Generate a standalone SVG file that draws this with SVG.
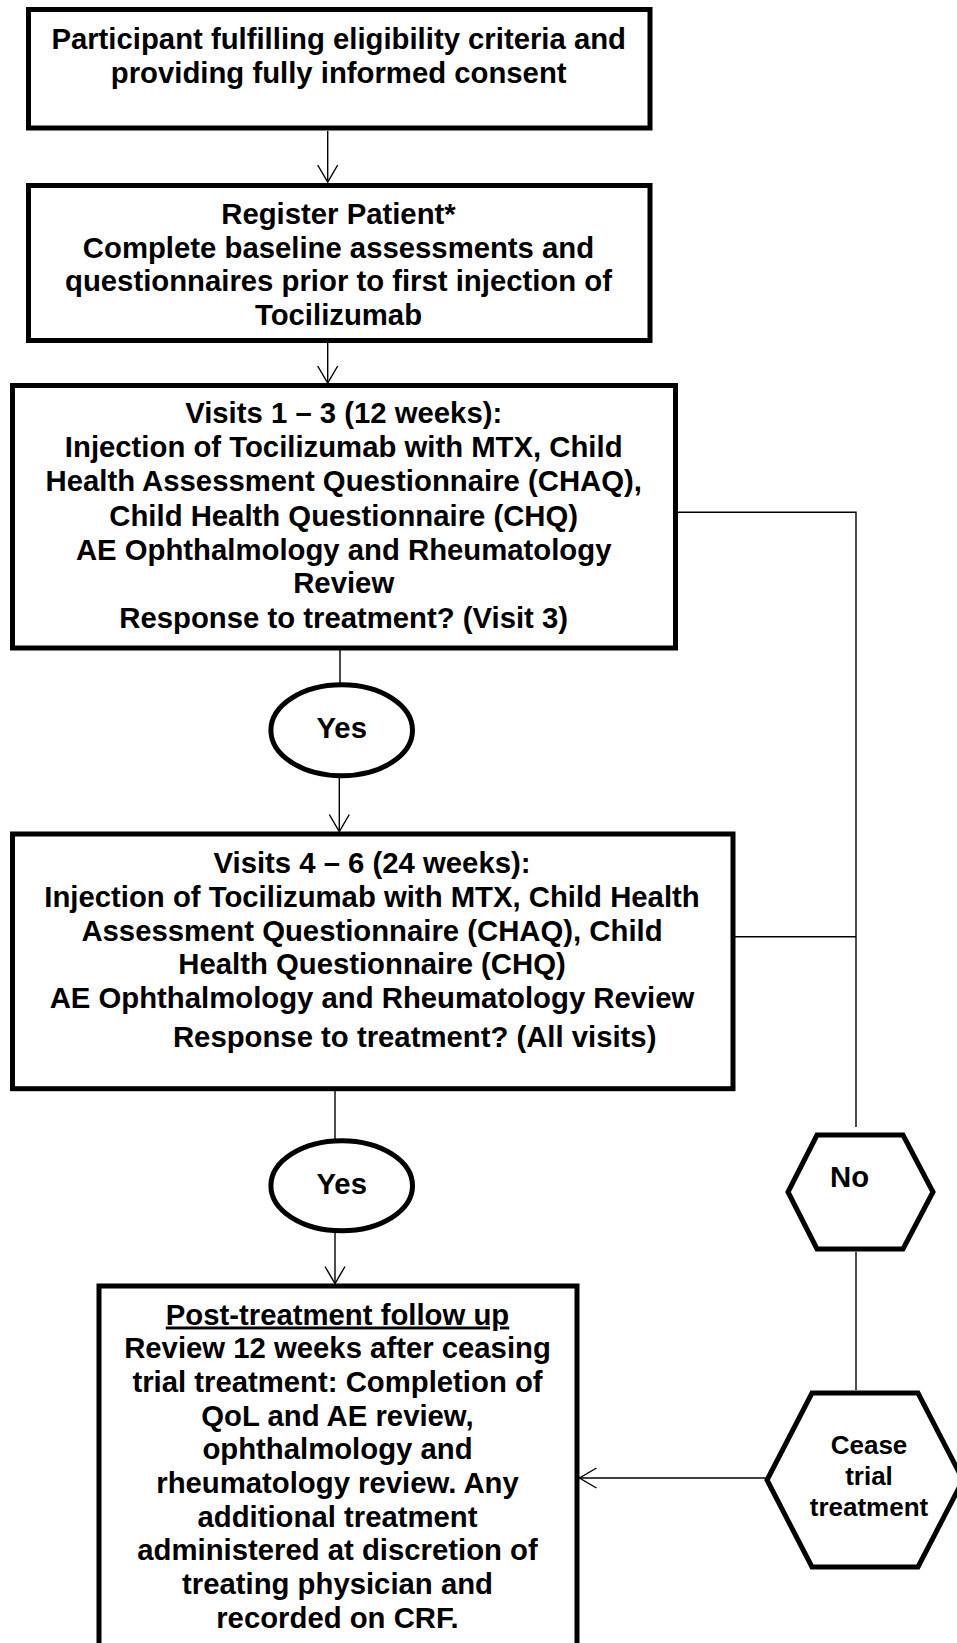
<svg xmlns="http://www.w3.org/2000/svg" width="957" height="1643" viewBox="0 0 957 1643">
  <style>
    .box { fill: #fff; stroke: #000; stroke-width: 5; stroke-linejoin: miter; }
    .conn { fill: none; stroke: #000; stroke-width: 1.4; }
    .t { font-family: "Liberation Sans", Arial, sans-serif; font-weight: bold; font-size: 29.3px; fill: #000; text-anchor: middle; }
    .ts { font-family: "Liberation Sans", Arial, sans-serif; font-weight: bold; font-size: 26px; fill: #000; text-anchor: middle; }
  </style>
  <defs>
    <marker id="arrow" viewBox="-19 -12 21 24" refX="0" refY="0" markerWidth="21" markerHeight="24" markerUnits="userSpaceOnUse" orient="auto">
      <path d="M -17,-10 L 0,0 L -17,10" fill="none" stroke="#000" stroke-width="1.4"/>
    </marker>
  </defs>
  <rect width="957" height="1643" fill="#fff"/>

  <g id="connectors">
    <line class="conn" x1="327.7" y1="131" x2="327.7" y2="182" marker-end="url(#arrow)"/>
    <line class="conn" x1="327.7" y1="343" x2="327.7" y2="383" marker-end="url(#arrow)"/>
    <line class="conn" x1="340" y1="650" x2="340" y2="685"/>
    <line class="conn" x1="339.3" y1="776" x2="339.3" y2="831.5" marker-end="url(#arrow)"/>
    <line class="conn" x1="335" y1="1091" x2="335" y2="1141"/>
    <line class="conn" x1="335" y1="1231" x2="335" y2="1283.5" marker-end="url(#arrow)"/>
    <polyline class="conn" points="678,512.3 856,512.3 856,1127"/>
    <line class="conn" x1="735" y1="936.7" x2="856" y2="936.7"/>
    <line class="conn" x1="856" y1="1252" x2="856" y2="1390"/>
    <line class="conn" x1="767" y1="1478" x2="579.5" y2="1478" marker-end="url(#arrow)"/>
  </g>

  <g id="node-eligibility">
    <rect class="box" x="28.5" y="9.5" width="621.5" height="118.5"/>
    <text class="t" x="338.7" y="49.3">Participant fulfilling eligibility criteria and</text>
    <text class="t" x="338.7" y="82.7">providing fully informed consent</text>
  </g>

  <g id="node-register">
    <rect class="box" x="28.5" y="185.5" width="621.5" height="155"/>
    <text class="t" x="338.5" y="224">Register Patient*</text>
    <text class="t" x="338.5" y="257.5">Complete baseline assessments and</text>
    <text class="t" x="338.5" y="291">questionnaires prior to first injection of</text>
    <text class="t" x="338.5" y="324.5">Tocilizumab</text>
  </g>

  <g id="node-visits1-3">
    <rect class="box" x="12.5" y="385.5" width="663" height="262.5"/>
    <text class="t" x="343.7" y="423">Visits 1 – 3 (12 weeks):</text>
    <text class="t" x="343.7" y="457">Injection of Tocilizumab with MTX, Child</text>
    <text class="t" x="343.7" y="491">Health Assessment Questionnaire (CHAQ),</text>
    <text class="t" x="343.7" y="525.5">Child Health Questionnaire (CHQ)</text>
    <text class="t" x="343.7" y="560">AE Ophthalmology and Rheumatology</text>
    <text class="t" x="343.7" y="593">Review</text>
    <text class="t" x="343.7" y="628">Response to treatment? (Visit 3)</text>
  </g>

  <g id="node-yes1">
    <ellipse class="box" cx="341.7" cy="730.3" rx="70.8" ry="45.5"/>
    <text class="t" x="341.7" y="738.3">Yes</text>
  </g>

  <g id="node-visits4-6">
    <rect class="box" x="12.5" y="834" width="720.5" height="254.7"/>
    <text class="t" x="372" y="872.7">Visits 4 – 6 (24 weeks):</text>
    <text class="t" x="372" y="906.7">Injection of Tocilizumab with MTX, Child Health</text>
    <text class="t" x="372" y="940.7">Assessment Questionnaire (CHAQ), Child</text>
    <text class="t" x="372" y="974.3">Health Questionnaire (CHQ)</text>
    <text class="t" x="372" y="1008.3">AE Ophthalmology and Rheumatology Review</text>
    <text class="t" x="414.7" y="1047">Response to treatment? (All visits)</text>
  </g>

  <g id="node-yes2">
    <ellipse class="box" cx="341.7" cy="1185.8" rx="70.8" ry="45"/>
    <text class="t" x="341.7" y="1194.3">Yes</text>
  </g>

  <g id="node-followup">
    <rect class="box" x="99" y="1286" width="478" height="380"/>
    <text class="t" x="337.5" y="1324.5" text-decoration="underline">Post-treatment follow up</text>
    <text class="t" x="337.5" y="1358.2">Review 12 weeks after ceasing</text>
    <text class="t" x="337.5" y="1391.9">trial treatment: Completion of</text>
    <text class="t" x="337.5" y="1425.6">QoL and AE review,</text>
    <text class="t" x="337.5" y="1459.3">ophthalmology and</text>
    <text class="t" x="337.5" y="1493">rheumatology review. Any</text>
    <text class="t" x="337.5" y="1526.7">additional treatment</text>
    <text class="t" x="337.5" y="1560.4">administered at discretion of</text>
    <text class="t" x="337.5" y="1594.1">treating physician and</text>
    <text class="t" x="337.5" y="1627.8">recorded on CRF.</text>
  </g>

  <g id="node-no">
    <polygon class="box" points="817,1135 903,1135 933,1192 903,1249 817,1249 788,1192"/>
    <text class="t" x="849.5" y="1186.7">No</text>
  </g>

  <g id="node-cease">
    <polygon class="box" points="812,1393 918,1393 963,1480 918,1567 812,1567 767,1480"/>
    <text class="ts" x="869" y="1454.3">Cease</text>
    <text class="ts" x="869" y="1485">trial</text>
    <text class="ts" x="869" y="1516">treatment</text>
  </g>
</svg>
